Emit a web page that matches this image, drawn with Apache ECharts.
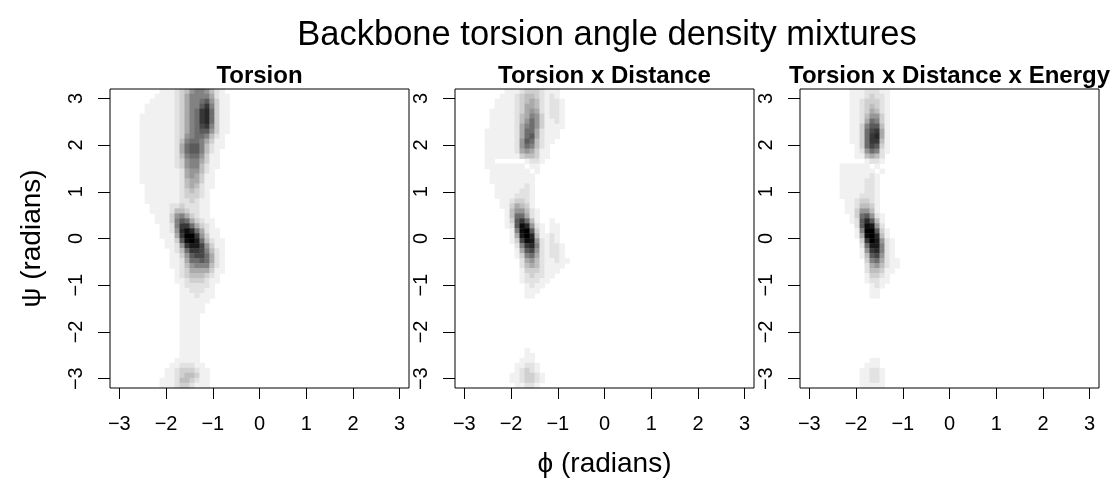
<!DOCTYPE html>
<html>
<head>
<meta charset="utf-8">
<script src="https://cdn.jsdelivr.net/npm/echarts@6/dist/echarts.min.js"></script>
<style>
html, body { margin: 0; padding: 0; background: #ffffff; }
#chart { width: 1113px; height: 480px; }
</style>
</head>
<body>
<div id="chart"></div>
<script>
// ---- Data ----
const chartTitle = 'Backbone torsion angle density mixtures';
const panelTitles = ['Torsion', 'Torsion x Distance', 'Torsion x Distance x Energy'];
const xAxisTitle = '\u03D5 (radians)';
const yAxisTitle = '\u03C8 (radians)';
const tickValues = [-3, -2, -1, 0, 1, 2, 3];
const angleRange = [-3.2, 3.2];   // extent of the density grid (radians)
const gridCells = 60;             // 60 x 60 density cells per panel

// Density levels per row (top row = highest psi), hex digit 0..f = darkness level.
// Each entry: [first phi cell index, levels of successive cells]
const torsionRows = [
  [10, '1112346776421'],
  [9, '111123577775211'],
  [8, '1111123577896311'],
  [7, '111111235779b7311'],
  [7, '11111123578bc8311'],
  [6, '111111123578bc8311'],
  [6, '111111123578bc8311'],
  [6, '111111123578ab7311'],
  [6, '111111123578996311'],
  [6, '11111112367887421'],
  [6, '11111112478875311'],
  [6, '11111112589974211'],
  [6, '1111111258997421'],
  [6, '1111111247886311'],
  [6, '1111111236775311'],
  [6, '1111111236774211'],
  [6, '111111112566421'],
  [6, '111111112565311'],
  [6, '111111112455311'],
  [7, '11111112454211'],
  [7, '1111111234321'],
  [7, '1111111233321'],
  [7, '1111111223211'],
  [8, '111122322211'],
  [8, '111124432211'],
  [9, '11136753211'],
  [9, '111379853211'],
  [10, '1127bb85321'],
  [10, '1126cec85211'],
  [10, '1115bffb6311'],
  [11, '1139efd84211'],
  [11, '1126bdda6311'],
  [12, '1248bba7421'],
  [12, '11369aa8521'],
  [12, '11258898521'],
  [12, '11246777421'],
  [13, '1235555311'],
  [13, '123444321'],
  [13, '112333211'],
  [14, '1222221'],
  [14, '1122211'],
  [14, '1112111'],
  [14, '111111'],
  [14, '11111'],
  [14, '11111'],
  [14, '1111'],
  [14, '1111'],
  [14, '1111'],
  [14, '1111'],
  [14, '1111'],
  [14, '1111'],
  [14, '1111'],
  [14, '1111'],
  [14, '1111'],
  [13, '11111'],
  [12, '1122211'],
  [11, '112333211'],
  [11, '112344311'],
  [10, '1112443211'],
  [10, '1112332111']
];

const distanceRows = [
  [10, '11123332111'],
  [9, '111234432121'],
  [8, '11112345421221'],
  [8, '11112355421221'],
  [7, '111112356521221'],
  [7, '111112457631221'],
  [7, '111112468631121'],
  [7, '111112578631111'],
  [6, '111111258852111'],
  [6, '111111258952111'],
  [6, '11111126984211'],
  [6, '1111112687421'],
  [6, '1111112565311'],
  [6, '1111111344311'],
  [6, '110000001221'],
  [6, '11111111011'],
  [7, '1111111101'],
  [7, '111111111'],
  [7, '111111111'],
  [8, '11111121'],
  [8, '11111221'],
  [8, '11112221'],
  [9, '1123321'],
  [9, '1135431'],
  [10, '1466421'],
  [10, '1488521'],
  [10, '139b841001'],
  [10, '129ec621011'],
  [11, '17ef931011'],
  [11, '15dfc41121'],
  [11, '13aed62121'],
  [12, '27bc721221'],
  [12, '159a621221'],
  [12, '1378521221'],
  [13, '2564211211'],
  [13, '245421111'],
  [13, '13332111'],
  [13, '1232211'],
  [13, '122211'],
  [14, '1211'],
  [14, '111'],
  [14, '11'],
  [0, ''], [0, ''], [0, ''], [0, ''], [0, ''],
  [0, ''], [0, ''], [0, ''], [0, ''], [0, ''],
  [14, '1'],
  [14, '11'],
  [13, '111'],
  [12, '11221'],
  [12, '12321'],
  [11, '1123321'],
  [11, '1123321'],
  [12, '11221']
];

const energyRows = [
  [10, '11122211'],
  [10, '11123221'],
  [10, '11233321'],
  [10, '11234321'],
  [10, '11235421'],
  [10, '11246631'],
  [10, '11258731'],
  [10, '11379941'],
  [10, '1138ab51'],
  [10, '1138bc51'],
  [10, '1138bb41'],
  [11, '138a931'],
  [11, '1268721'],
  [11, '114542'],
  [13, '1221'],
  [8, '11111101'],
  [8, '111111101'],
  [8, '11111121'],
  [8, '11111221'],
  [8, '11111221'],
  [8, '11111221'],
  [8, '11112221'],
  [9, '1123321'],
  [9, '1124431'],
  [9, '1136641'],
  [10, '1389621'],
  [10, '129c941'],
  [11, '29ed62'],
  [11, '17ff931'],
  [11, '15efc41'],
  [12, '3bfd621'],
  [12, '28dd721'],
  [12, '16bc721'],
  [12, '149a621'],
  [13, '3785211'],
  [13, '2564211'],
  [13, '244311'],
  [13, '13321'],
  [13, '12211'],
  [14, '121'],
  [14, '11'],
  [14, '11'],
  [0, ''], [0, ''], [0, ''], [0, ''], [0, ''], [0, ''],
  [0, ''], [0, ''], [0, ''], [0, ''], [0, ''], [0, ''],
  [14, '11'],
  [13, '111'],
  [12, '11221'],
  [12, '11221'],
  [12, '11221'],
  [12, '11111']
];

// ---- Build chart ----
const FONT = '"Liberation Sans", Arial, Helvetica, sans-serif';
const panelRows = [torsionRows, distanceRows, energyRows];
const cellIndex = Array.from({ length: gridCells }, (_, i) => i);
// grey ramp for darkness levels 0..15
const greyRamp = ['#ffffff', '#f1f1f1', '#e2e2e2', '#d0d0d0', '#bebebe', '#aaaaaa', '#969696',
  '#828282', '#6e6e6e', '#5a5a5a', '#464646', '#373737', '#282828', '#191919', '#0c0c0c', '#000000'];

function toCells(rows) {
  const out = [];
  rows.forEach((row, r) => {
    const start = row[0], levels = row[1];
    for (let i = 0; i < levels.length; i++) {
      const v = parseInt(levels[i], 16);
      if (v > 0) out.push([start + i, gridCells - 1 - r, v]);
    }
  });
  return out;
}

const panelLeft = [110, 455, 800];
const panelTop = 89;
const panelSize = 299;

const grids = [], xAxes = [], yAxes = [], series = [], titles = [];

titles.push({
  text: chartTitle, left: 607, top: 18, textAlign: 'center', padding: 0,
  textStyle: { fontFamily: FONT, fontSize: 34.5, fontWeight: 'normal', color: '#000' }
});

panelRows.forEach((rows, k) => {
  grids.push({ left: panelLeft[k], top: panelTop, width: panelSize, height: panelSize,
    show: false, outerBoundsMode: 'none', containLabel: false });
  xAxes.push({ type: 'category', gridIndex: k, data: cellIndex, show: false });
  yAxes.push({ type: 'category', gridIndex: k, data: cellIndex, show: false });
  series.push({
    type: 'heatmap', xAxisIndex: k, yAxisIndex: k, data: toCells(rows),
    itemStyle: { borderWidth: 0 }, emphasis: { disabled: true }, progressive: 0,
    z: 1
  });
  titles.push({
    text: panelTitles[k], left: panelLeft[k] + panelSize / 2, top: 64, textAlign: 'center', padding: 0,
    textStyle: { fontFamily: FONT, fontSize: 24, fontWeight: 'bold', color: '#000' }
  });
});

const labelFmt = v => String(v).replace('-', '\u2212');

panelRows.forEach((rows, k) => {
  grids.push({ left: panelLeft[k], top: panelTop, width: panelSize, height: panelSize,
    show: true, borderColor: '#000', borderWidth: 1, backgroundColor: 'transparent',
    z: 5, outerBoundsMode: 'none', containLabel: false });
  xAxes.push({
    type: 'value', gridIndex: 3 + k, min: angleRange[0], max: angleRange[1], z: 5,
    position: 'bottom',
    axisLine: { show: false, onZero: false }, splitLine: { show: false },
    axisTick: { show: true, customValues: tickValues, length: 11, lineStyle: { color: '#000', width: 1 } },
    axisLabel: { customValues: tickValues, formatter: labelFmt, margin: 26,
      fontFamily: FONT, fontSize: 20, color: '#000' },
    name: k === 1 ? xAxisTitle : '', nameLocation: 'middle', nameGap: 62, nameMoveOverlap: false,
    nameTextStyle: { fontFamily: FONT, fontSize: 28, color: '#000' }
  });
  yAxes.push({
    type: 'value', gridIndex: 3 + k, min: angleRange[0], max: angleRange[1], z: 5,
    position: 'left',
    axisLine: { show: false, onZero: false }, splitLine: { show: false },
    axisTick: { show: true, customValues: tickValues, length: 12, lineStyle: { color: '#000', width: 1 } },
    axisLabel: { customValues: tickValues, formatter: labelFmt, margin: 24, rotate: 90,
      fontFamily: FONT, fontSize: 20, color: '#000' },
    name: k === 0 ? yAxisTitle : '', nameLocation: 'middle', nameGap: 64, nameRotate: 90,
    nameMoveOverlap: false,
    nameTextStyle: { fontFamily: FONT, fontSize: 28, color: '#000' }
  });
});

const chart = echarts.init(document.getElementById('chart'), null, { renderer: 'canvas' });
chart.setOption({
  animation: false,
  backgroundColor: '#ffffff',
  title: titles,
  grid: grids,
  xAxis: xAxes,
  yAxis: yAxes,
  visualMap: {
    type: 'continuous', show: false, min: 0, max: 15, dimension: 2,
    seriesIndex: [0, 1, 2], inRange: { color: greyRamp }
  },
  series: series
});
</script>
</body>
</html>
